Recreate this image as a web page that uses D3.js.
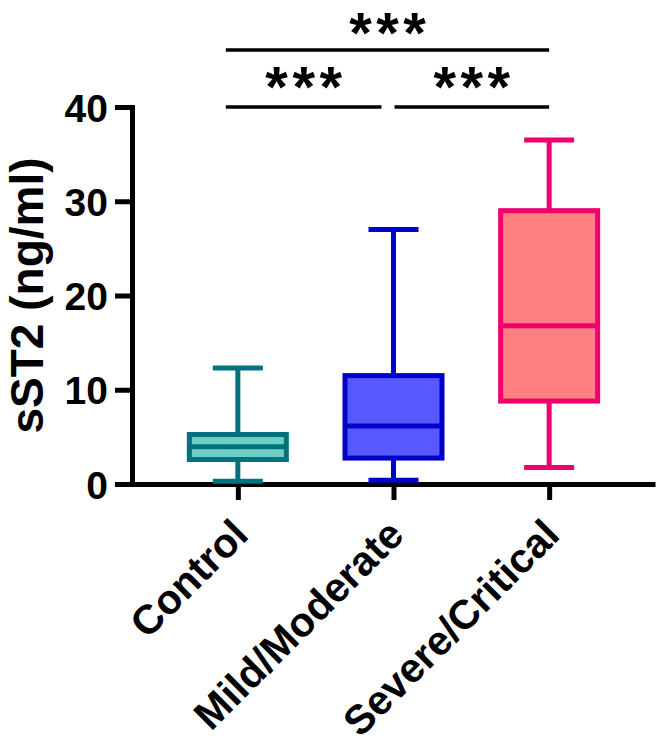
<!DOCTYPE html>
<html>
<head>
<meta charset="utf-8">
<script src="https://cdn.jsdelivr.net/npm/d3@7"></script>
<style>
body { margin: 0; background: #fff; }
text { font-family: "Liberation Sans", Arial, sans-serif; font-weight: bold; }
</style>
</head>
<body>
<div id="chart"></div>
<script>
// data
const groups = ["Control", "Mild/Moderate", "Severe/Critical"]
const whiskerLow = [0.3, 0.4, 1.75]
const q1 = [2.6, 2.75, 8.8]
const median = [3.95, 6.15, 16.8]
const q3 = [5.25, 11.5, 29.0]
const whiskerHigh = [12.3, 27.0, 36.5]
const yTicks = [0, 10, 20, 30, 40]
// significance brackets: [from group, to group, label, level]
const brackets = [[0, 1, "***", 0], [1, 2, "***", 0], [0, 2, "***", 1]]

const strokeCol = ["#00737f", "#0000cc", "#f0006c"]
const fillCol = ["#70cfc5", "#5858ff", "#ff8080"]

const width = 668
const height = 746
const plot = {left: 132, right: 655, top: 107, bottom: 484}

var svg = d3.select("#chart")
.append("svg")
.attr("width", width)
.attr("height", height)

var x = d3.scalePoint()
.domain(groups)
.range([plot.left, plot.right])
.padding(0.68)

var y = d3.scaleLinear()
.domain([0, 40])
.range([plot.bottom, plot.top])

// Y axis
var yAxisG = svg.append("g")
.attr("transform", "translate(" + plot.left + ",0)")
.call(d3.axisLeft(y).tickValues(yTicks).tickSize(17).tickSizeOuter(0).tickPadding(7))
yAxisG.selectAll("path, line").attr("stroke", "#000").attr("stroke-width", 5)
yAxisG.select(".domain").attr("stroke-linecap", "square")
yAxisG.selectAll("text")
.attr("fill", "#000")
.style("font-size", "39px")
.attr("dy", "0.36em")

// X axis
var xAxisG = svg.append("g")
.attr("transform", "translate(0," + plot.bottom + ")")
.call(d3.axisBottom(x).tickSize(16).tickSizeOuter(0))
xAxisG.selectAll("path, line").attr("stroke", "#000").attr("stroke-width", 5)
xAxisG.selectAll("text")
.attr("fill", "#000")
.attr("x", 0).attr("y", 0).attr("dy", 0)
.style("font-size", "41px")
.style("text-anchor", "end")
.attr("transform", "translate(12,53) rotate(-45)")

// Y axis title
svg.append("text")
.attr("transform", "translate(43," + (plot.top + plot.bottom) / 2 + ") rotate(-90)")
.attr("text-anchor", "middle")
.style("font-size", "46px")
.text("sST2 (ng/ml)")

// Box plots
const boxW = 97
const capW = 50
var boxes = svg.selectAll(".box")
.data(groups)
.enter()
.append("g")
.attr("class", "box")

boxes.append("line")
.attr("x1", d => x(d)).attr("x2", d => x(d))
.attr("y1", (d, i) => y(whiskerLow[i])).attr("y2", (d, i) => y(whiskerHigh[i]))
.attr("stroke", (d, i) => strokeCol[i])
.attr("stroke-width", 5)

boxes.selectAll(".cap")
.data((d, i) => [[d, i, whiskerLow[i]], [d, i, whiskerHigh[i]]])
.enter()
.append("line")
.attr("class", "cap")
.attr("x1", d => x(d[0]) - capW / 2).attr("x2", d => x(d[0]) + capW / 2)
.attr("y1", d => y(d[2])).attr("y2", d => y(d[2]))
.attr("stroke", d => strokeCol[d[1]])
.attr("stroke-width", 5)

boxes.append("rect")
.attr("x", d => x(d) - boxW / 2)
.attr("width", boxW)
.attr("y", (d, i) => y(q3[i]))
.attr("height", (d, i) => y(q1[i]) - y(q3[i]))
.attr("fill", (d, i) => fillCol[i])
.attr("stroke", (d, i) => strokeCol[i])
.attr("stroke-width", 5)

boxes.append("line")
.attr("x1", d => x(d) - boxW / 2).attr("x2", d => x(d) + boxW / 2)
.attr("y1", (d, i) => y(median[i])).attr("y2", (d, i) => y(median[i]))
.attr("stroke", (d, i) => strokeCol[i])
.attr("stroke-width", 5)

// Significance brackets
const last = groups.length - 1
const levelY = [plot.top, 50]
const starGap = 4.5
var sig = svg.selectAll(".sig")
.data(brackets)
.enter()
.append("g")
.attr("class", "sig")

const bx1 = d => d[0] === 0 ? x(groups[d[0]]) - 12 : x(groups[d[0]]) + 1
const bx2 = d => d[1] === last ? x(groups[d[1]]) : x(groups[d[1]]) - 12

sig.append("line")
.attr("x1", bx1).attr("x2", bx2)
.attr("y1", d => levelY[d[3]]).attr("y2", d => levelY[d[3]])
.attr("stroke", "#000")
.attr("stroke-width", 3.5)

sig.append("text")
.attr("x", d => (bx1(d) + bx2(d)) / 2 + starGap / 2)
.attr("y", d => levelY[d[3]] + (d[3] ? 3 : 0))
.attr("text-anchor", "middle")
.style("font-size", "58px")
.style("letter-spacing", starGap + "px")
.text(d => d[2])
</script>
</body>
</html>
